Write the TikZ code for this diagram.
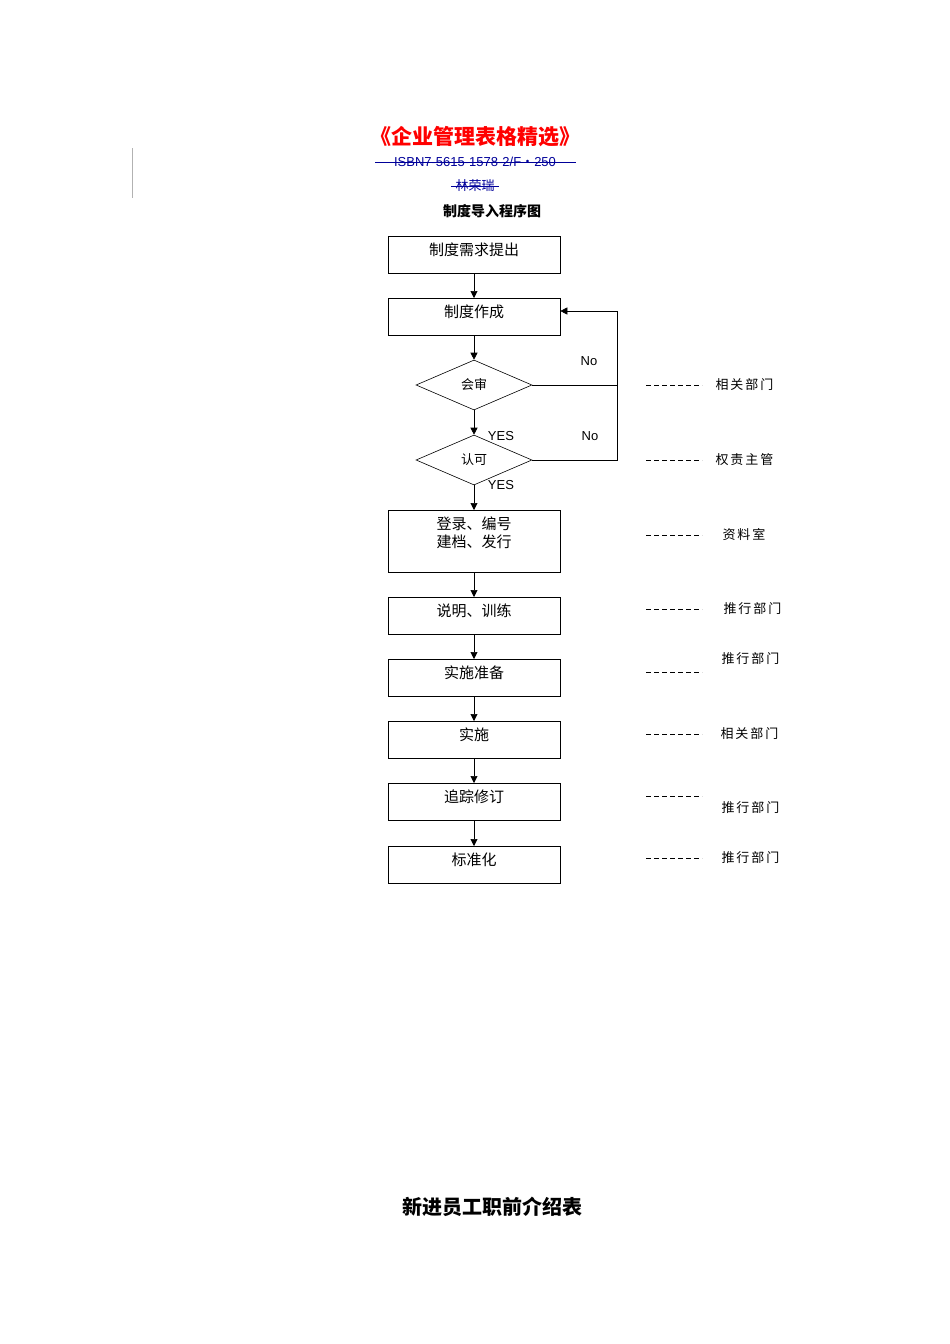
\documentclass[tikz,border=0pt]{standalone}
\usepackage{fontspec}
\setmainfont{Liberation Sans}
\newfontfamily\cjk{Noto Sans CJK SC}
\usetikzlibrary{shapes.geometric,arrows.meta}
\begin{document}
\begin{tikzpicture}[x=1pt,y=-1pt,
 bx/.style={draw,semithick,minimum width=172pt,inner sep=0pt,font=\cjk\fontsize{15}{16}\selectfont},
 dia/.style={draw,semithick,diamond,aspect=2.3,minimum width=116pt,minimum height=50pt,inner sep=0pt,font=\cjk\fontsize{13}{14}\selectfont},
 arr/.style={semithick,-{Triangle[length=7pt,width=7pt]}},
 lab/.style={font=\cjk\fontsize{13}{14}\selectfont,anchor=west},
 dsh/.style={semithick,dash pattern=on 5pt off 3pt},
 yn/.style={font=\fontsize{13}{14}\selectfont}]
\useasboundingbox (0,0) rectangle (950,1344);
\draw[gray!60] (132,148) -- (132,198);
\node[font=\cjk\bfseries\fontsize{21}{22}\selectfont,text=red] (t) at (475,137) {《企业管理表格精选》};
\node[font=\fontsize{13}{14}\selectfont,text=blue!60!black] (isbn) at (475,162) {ISBN7-5615-1578-2/F{\cjk ・}250};
\draw[blue!60!black] (375,162) -- (576,162);
\node[font=\cjk\fontsize{13}{14}\selectfont,text=blue!60!black] (au) at (475,186) {林荣瑞};
\draw[blue!60!black] (451,186) -- (499,186);
\node[font=\cjk\bfseries\fontsize{14}{15}\selectfont] (st) at (492,211) {制度导入程序图};

\node[bx,minimum height=37pt,anchor=north,text depth=12pt] (b1) at (474,236) {制度需求提出};
\node[bx,minimum height=37pt,anchor=north,text depth=12pt] (b2) at (474,298) {制度作成};
\node[dia] (d1) at (474,385) {会审};
\node[dia] (d2) at (474,460) {认可};
\node[bx,minimum height=62pt,anchor=north] (b3) at (474,510) {};
\node[font=\cjk\fontsize{15}{16}\selectfont,inner sep=0pt] (b3a) at (474,524) {登录、编号};
\node[font=\cjk\fontsize{15}{16}\selectfont,inner sep=0pt] (b3b) at (474,542) {建档、发行};
\node[bx,minimum height=37pt,anchor=north,text depth=12pt] (b4) at (474,597) {说明、训练};
\node[bx,minimum height=37pt,anchor=north,text depth=12pt] (b5) at (474,659) {实施准备};
\node[bx,minimum height=37pt,anchor=north,text depth=12pt] (b6) at (474,721) {实施};
\node[bx,minimum height=37pt,anchor=north,text depth=12pt] (b7) at (474,783) {追踪修订};
\node[bx,minimum height=37pt,anchor=north,text depth=12pt] (b8) at (474,846) {标准化};

\draw[arr] (b1) -- (b2);
\draw[arr] (b2) -- (d1);
\draw[arr] (d1) -- (d2);
\draw[arr] (d2) -- (b3);
\draw[arr] (b3) -- (b4);
\draw[arr] (b4) -- (b5);
\draw[arr] (b5) -- (b6);
\draw[arr] (b6) -- (b7);
\draw[arr] (b7) -- (b8);
\coordinate (r1) at (617,385);
\coordinate (r2) at (617,460);
\coordinate (r0) at (617,311);
\draw[semithick] (d1.east) -- (r1);
\draw[semithick] (d2.east) -- (r2) -- (r0);
\draw[arr] (r0) -- (b2.east |- r0);
\node[yn] (n1) at (589,361) {No};
\node[yn] (n2) at (590,436) {No};
\node[yn] (y1) at (501,436) {YES};
\node[yn] (y2) at (501,485) {YES};

\foreach \y/\t/\x/\ly in {385/相关部门/712/385, 460/权责主管/712/460, 535/资料室/719/535, 609/推行部门/720/609, 672/推行部门/718/659, 734/相关部门/717/734, 796/推行部门/718/808, 858/推行部门/718/858}{
 \draw[dsh] (646,\y) -- (702,\y);
 \node[lab,font=\cjk\fontsize{13}{14}\selectfont\addfontfeature{LetterSpace=15}] at (\x,\ly) {\t};
}
\node[font=\cjk\bfseries\fontsize{20}{21}\selectfont] (bt) at (492,1207) {新进员工职前介绍表};
\end{tikzpicture}
\end{document}
